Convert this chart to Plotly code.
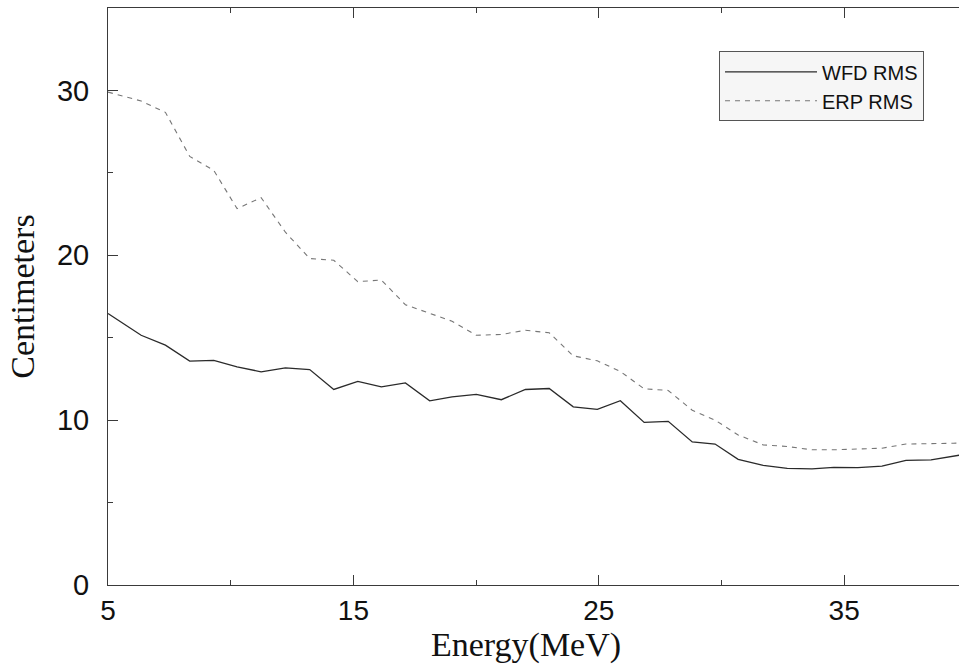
import plotly.graph_objects as go

# Energy (MeV) sample positions
energy = [5.00, 6.35, 7.34, 8.33, 9.31, 10.26, 11.24, 12.23, 13.22, 14.20,
          15.18, 16.14, 17.12, 18.11, 19.02, 20.01, 21.03, 22.01, 22.98, 23.96,
          24.94, 25.88, 26.85, 27.83, 28.81, 29.74, 30.68, 31.70, 32.68, 33.69,
          34.58, 35.56, 36.54, 37.52, 38.54, 39.44, 40.00]

wfd_rms = [16.47, 15.15, 14.55, 13.58, 13.62, 13.23, 12.93, 13.17, 13.07, 11.86,
           12.35, 12.02, 12.26, 11.17, 11.41, 11.56, 11.24, 11.86, 11.92, 10.81,
           10.65, 11.18, 9.86, 9.93, 8.68, 8.55, 7.62, 7.25, 7.07, 7.05,
           7.13, 7.12, 7.21, 7.56, 7.59, 7.84, 7.95]

erp_rms = [29.90, 29.36, 28.67, 26.00, 25.15, 22.83, 23.50, 21.40, 19.80, 19.70,
           18.40, 18.50, 17.00, 16.50, 16.00, 15.15, 15.20, 15.45, 15.30, 13.90,
           13.60, 12.95, 11.90, 11.80, 10.60, 10.00, 9.10, 8.50, 8.40, 8.20,
           8.20, 8.25, 8.30, 8.55, 8.60, 8.60, 8.62]

x_major = [5, 15, 25, 35]
y_major = [0, 10, 20, 30]

fig = go.Figure()
fig.add_trace(go.Scatter(x=energy, y=wfd_rms, mode="lines", name="WFD RMS",
                         line=dict(color="#2a2a2a", width=1.3)))
fig.add_trace(go.Scatter(x=energy, y=erp_rms, mode="lines", name="ERP RMS",
                         line=dict(color="#777777", width=1.1, dash="5px,5px")))

axis_common = dict(showgrid=False, zeroline=False, showline=True,
                   linecolor="#3a3a3a", linewidth=1, ticks="inside",
                   ticklen=10, tickcolor="#3a3a3a", tickwidth=1)

fig.update_xaxes(range=[5, 39.68], tickvals=x_major,
                 ticktext=[str(v) for v in x_major], mirror="ticks",
                 minor=dict(dtick=5, tick0=0, ticks="inside", ticklen=5,
                            tickcolor="#3a3a3a", showgrid=False),
                 tickfont=dict(family="Liberation Sans, Arial, sans-serif",
                               size=28, color="#111"),
                 ticklabelstandoff=0,
                 **axis_common)
fig.update_yaxes(range=[0, 35], tickvals=y_major,
                 ticktext=[str(v) for v in y_major], mirror=False,
                 minor=dict(dtick=5, tick0=0, ticks="inside", ticklen=5,
                            tickcolor="#3a3a3a", showgrid=False),
                 tickfont=dict(family="Liberation Sans, Arial, sans-serif",
                               size=29, color="#111"),
                 title=dict(text="Centimeters", standoff=12,
                            font=dict(family="Liberation Serif, Times New Roman, serif",
                                      size=34, color="#111")),
                 ticklabelstandoff=12,
                 **axis_common)

fig.add_annotation(text="Energy(MeV)", xref="paper", yref="paper",
                   x=(526 - 108) / 851, y=(585 - 645) / 577,
                   xanchor="center", yanchor="middle", showarrow=False,
                   font=dict(family="Liberation Serif, Times New Roman, serif",
                             size=34, color="#111"))

fig.update_layout(
    width=959, height=672,
    margin=dict(l=108, r=0, t=8, b=87),
    paper_bgcolor="white", plot_bgcolor="white",
    showlegend=True,
    legend=dict(x=0.718, y=0.925, xanchor="left", yanchor="top",
                bgcolor="#f6f6f6", bordercolor="#555", borderwidth=1,
                itemwidth=92, tracegroupgap=0,
                font=dict(family="Liberation Sans, Arial, sans-serif",
                          size=20, color="#111")),
)

fig.write_html("out.html")
